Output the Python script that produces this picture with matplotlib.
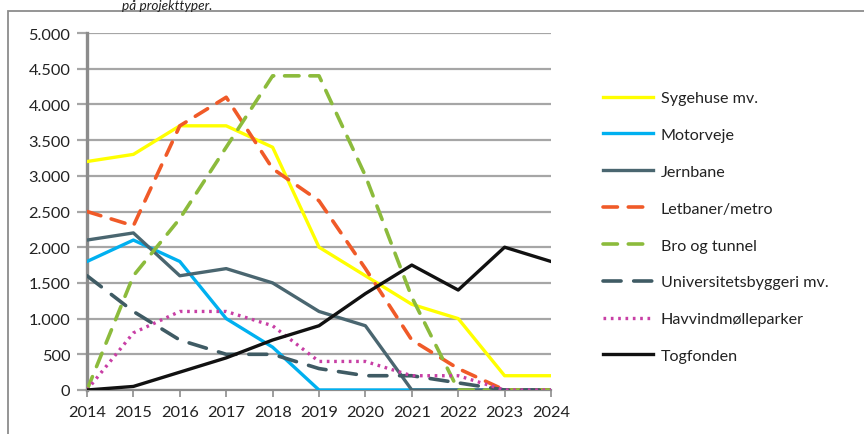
import matplotlib
matplotlib.use("Agg")
import matplotlib.pyplot as plt
from matplotlib.patches import Rectangle

plt.rcParams['font.family'] = ['Lato', 'DejaVu Sans']

years = [2014, 2015, 2016, 2017, 2018, 2019, 2020, 2021, 2022, 2023, 2024]
sygehuse = [3200, 3300, 3700, 3700, 3400, 2000, 1600, 1200, 1000, 200, 200]
motorveje = [1800, 2100, 1800, 1000, 600, 0, 0, 0, 0, 0, 0]
jernbane = [2100, 2200, 1600, 1700, 1500, 1100, 900, 0, 0, 0, 0]
letbaner = [2500, 2300, 3700, 4100, 3100, 2650, 1700, 700, 300, 0, 0]
bro = [0, 1600, 2400, 3400, 4400, 4400, 3000, 1300, 0, 0, 0]
universitet = [1600, 1100, 700, 500, 500, 300, 200, 200, 100, 0, 0]
havvind = [0, 800, 1100, 1100, 900, 400, 400, 200, 200, 0, 0]
togfonden = [0, 50, 250, 450, 700, 900, 1350, 1750, 1400, 2000, 1800]

labels = ["Sygehuse mv.", "Motorveje", "Jernbane", "Letbaner/metro",
          "Bro og tunnel", "Universitetsbyggeri mv.", "Havvindmølleparker", "Togfonden"]
yticks = [0, 500, 1000, 1500, 2000, 2500, 3000, 3500, 4000, 4500, 5000]
ytick_labels = ["0", "500", "1.000", "1.500", "2.000", "2.500", "3.000",
                "3.500", "4.000", "4.500", "5.000"]

W, H = 864, 435
fig = plt.figure(figsize=(W / 100, H / 100), dpi=100)

# outer chart border
fig.patches.append(Rectangle((8 / W, -0.05), 1.2, 1 - 12 / H + 0.05,
                             transform=fig.transFigure, fill=False,
                             edgecolor='#8c8c8c', linewidth=1.3))
fig.text(122 / W, 1 - 10 / H, "på projekttyper.", fontsize=9.8, style='italic',
         color='#222222', ha='left', va='baseline')

ax = fig.add_axes([87 / W, 1 - 391 / H, (551 - 87) / W, (391 - 34) / H])

lw = 2.4
ax.plot(years, sygehuse, color='#ffff00', lw=lw, label=labels[0], zorder=3)
ax.plot(years, motorveje, color='#00b0f0', lw=lw, label=labels[1], zorder=3)
ax.plot(years, jernbane, color='#4a6670', lw=lw, label=labels[2], zorder=3)
ax.plot(years, letbaner, color='#f05a28', lw=2.6, linestyle=(0, (4, 3)),
        dash_capstyle='round', label=labels[3], zorder=3)
ax.plot(years, bro, color='#8cbb3c', lw=2.6, linestyle=(0, (4, 3)),
        dash_capstyle='round', label=labels[4], zorder=3)
ax.plot(years, universitet, color='#3f5b64', lw=2.6, linestyle=(0, (5, 3.5)),
        dash_capstyle='round', label=labels[5], zorder=3)
ax.plot(years, havvind, color='#c83fa5', lw=2.4, linestyle=(0, (0.8, 1.4)),
        label=labels[6], zorder=3)
ax.plot(years, togfonden, color='#111111', lw=lw, label=labels[7], zorder=4)

ax.set_xlim(2014, 2024)
ax.set_ylim(0, 5000)
ax.set_yticks(yticks)
ax.set_yticklabels(ytick_labels)
ax.set_xticks(years)
ax.set_xticklabels([str(y) for y in years])

ax.grid(axis='y', color='#a6a6a6', linewidth=1.6, zorder=0)
ax.set_axisbelow(True)
for s in ['top', 'right']:
    ax.spines[s].set_visible(False)
ax.spines['left'].set_color('#8c8c8c')
ax.spines['left'].set_linewidth(2.4)
ax.spines['bottom'].set_color('#8c8c8c')
ax.spines['bottom'].set_linewidth(1.6)
ax.tick_params(axis='y', length=7, width=1.6, color='#a6a6a6', pad=5,
               labelsize=11.8, labelcolor='#222222')
ax.tick_params(axis='x', length=5, width=1.2, color='#8c8c8c', pad=6,
               labelsize=11.8, labelcolor='#222222')

handles, labs = ax.get_legend_handles_labels()
fig.legend(handles, labs, loc='upper left', bbox_to_anchor=(603 / W, 1 - 92 / H),
           frameon=False, fontsize=11.6, handlelength=3.1, handletextpad=0.5,
           labelspacing=1.4, borderpad=0, borderaxespad=0, labelcolor='#222222')

fig.savefig("out.png", dpi=100)
